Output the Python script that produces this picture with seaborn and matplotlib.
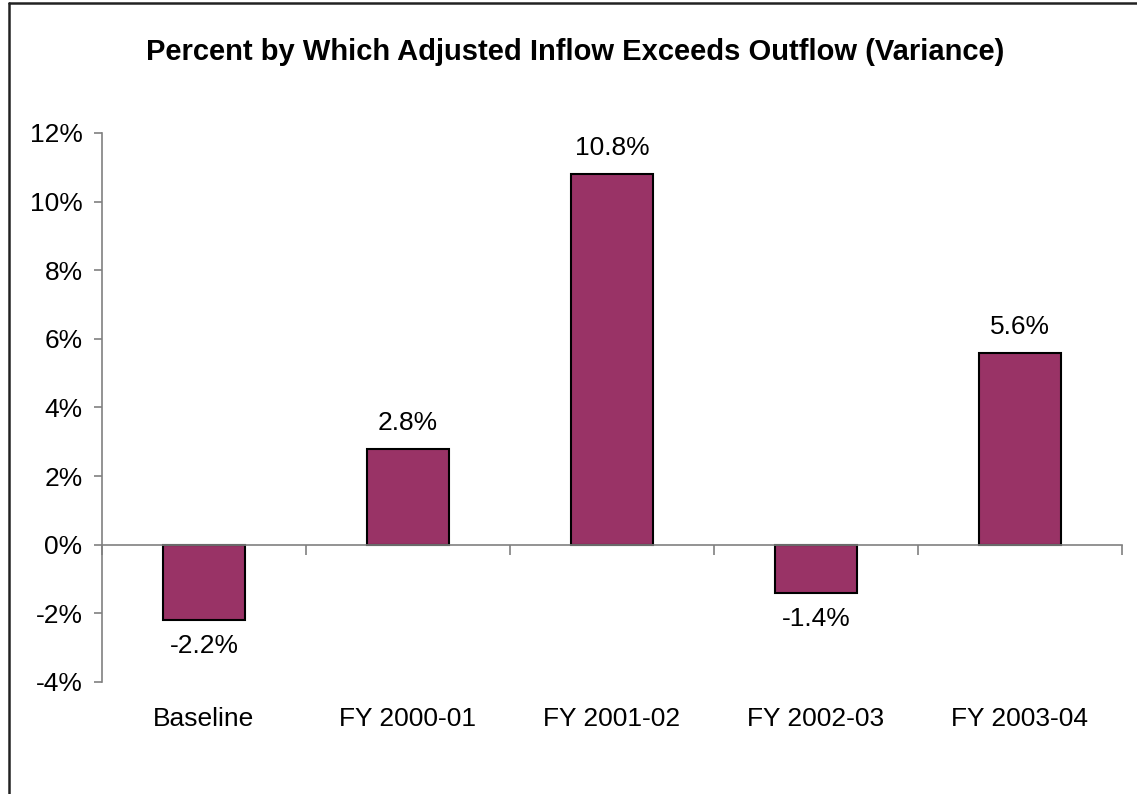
import matplotlib
matplotlib.use("Agg")
import matplotlib.pyplot as plt
from matplotlib.lines import Line2D
from matplotlib.ticker import FuncFormatter, FixedLocator
import seaborn as sns

# Werte
kategorien = ["Baseline", "FY 2000-01", "FY 2001-02", "FY 2002-03", "FY 2003-04"]
varianz = [-2.2, 2.8, 10.8, -1.4, 5.6]
y_ticks = [-4, -2, 0, 2, 4, 6, 8, 10, 12]

sns.set_style("white")
plt.rcParams['font.family'] = ['Liberation Sans', 'DejaVu Sans']
plt.rcParams['text.color'] = 'black'

fig = plt.figure(figsize=(11.37, 7.94), dpi=100)
ax = fig.add_axes([0.0897, 0.1411, 0.8971, 0.6914])

sns.barplot(x=kategorien, y=varianz, color="#993366", saturation=1,
            width=0.4, edgecolor="black", linewidth=1.5, ax=ax)

ax.set_ylim(-4, 12)
ax.set_yticks(y_ticks)
ax.yaxis.set_major_formatter(FuncFormatter(lambda v, p: f"{v:.0f}%"))
ax.set_xlim(-0.5, len(kategorien) - 0.5)

grau = "#808080"
for s in ["top", "right"]:
    ax.spines[s].set_visible(False)
ax.spines["left"].set_color(grau)
ax.spines["left"].set_linewidth(1.2)
ax.spines["bottom"].set_position(("data", 0))
ax.spines["bottom"].set_color(grau)
ax.spines["bottom"].set_linewidth(1.2)

ax.tick_params(axis="y", which="major", left=True, direction="out", length=6,
               width=1.2, color=grau, labelsize=19, pad=8, labelcolor="black")
ax.xaxis.set_minor_locator(FixedLocator([i - 0.5 for i in range(len(kategorien) + 1)]))
ax.tick_params(axis="x", which="minor", bottom=True, direction="out", length=7,
               width=1.2, color=grau)
ax.tick_params(axis="x", which="major", bottom=True, length=0, labelsize=19,
               pad=117, labelcolor="black")
ax.set_xlabel("")
ax.set_ylabel("")

ax.bar_label(ax.containers[0], labels=[f"{v:.1f}%" for v in varianz],
             padding=10, fontsize=19, color="black")

fig.text(0.506, 0.935, "Percent by Which Adjusted Inflow Exceeds Outflow (Variance)",
         ha="center", va="center", fontsize=21, fontweight="bold", color="black")

# Rahmen links und oben
fig.add_artist(Line2D([0.0075, 0.0075], [0, 0.996], transform=fig.transFigure,
                      color="#222222", linewidth=1.8))
fig.add_artist(Line2D([0.0075, 1.0], [0.996, 0.996], transform=fig.transFigure,
                      color="#222222", linewidth=1.8))

fig.savefig("out.png", dpi=100)
